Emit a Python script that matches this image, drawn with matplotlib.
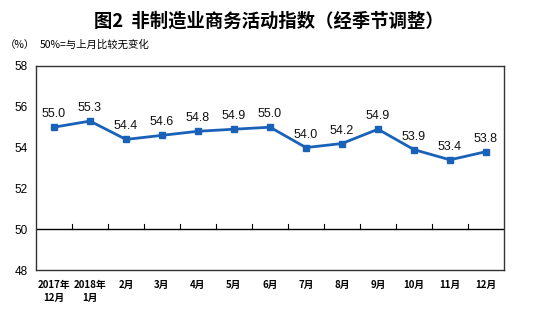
import matplotlib
matplotlib.use("Agg")
from matplotlib import pyplot as plt
import numpy as np

plt.rcParams['font.family'] = ['Liberation Sans', 'Noto Sans CJK SC', 'DejaVu Sans']

# 非制造业商务活动指数（经季节调整）
months = ['2017年\n12月', '2018年\n1月', '2月', '3月', '4月', '5月', '6月',
          '7月', '8月', '9月', '10月', '11月', '12月']
values = [55.0, 55.3, 54.4, 54.6, 54.8, 54.9, 55.0, 54.0, 54.2, 54.9, 53.9, 53.4, 53.8]
yticks = [48, 50, 52, 54, 56, 58]

cjk = ['Noto Sans CJK SC', 'DejaVu Sans']

fig = plt.figure(figsize=(5.38, 3.25), dpi=100)
ax = fig.add_axes([0.0669, 0.1692, 0.8699, 0.6278])

x = np.arange(len(values))
line_color = '#1a62b8'
ax.plot(x, values, color=line_color, lw=2, marker='s', ms=4, zorder=3)

for xi, v in zip(x, values):
    ax.annotate('%.1f' % v, (xi, v), xytext=(0, 5), textcoords='offset points',
                ha='center', va='bottom', fontsize=9, color='#111111')

ax.set_xlim(-0.5, len(values) - 0.5)
ax.set_ylim(48, 58)
ax.set_yticks(yticks)
ax.tick_params(axis='y', length=0, labelsize=8.5, pad=6)
ax.tick_params(axis='x', length=0, pad=7)
ax.set_xticks(x)
ax.set_xticklabels(months, fontsize=7, fontweight='bold', linespacing=1.45, family=cjk)

# 50% baseline with small ticks between months
ax.axhline(50, color='black', lw=1, zorder=2)
for b in np.arange(0.5, len(values) - 1, 1.0):
    ax.plot([b, b], [50, 50.25], color='black', lw=0.8, zorder=2)

for s in ax.spines.values():
    s.set_color('#333333')
    s.set_linewidth(1)

fig.text(0.5, 0.935, '图2  非制造业商务活动指数（经季节调整）', ha='center', va='center',
         fontsize=13.2, fontweight='bold', family=cjk)
fig.text(0.008, 0.862, '（%）', ha='left', va='center', fontsize=7.5, family=cjk)
fig.text(0.074, 0.862, '50%=与上月比较无变化', ha='left', va='center', fontsize=7.5,
         family=cjk)

fig.savefig('out.png', dpi=100)
